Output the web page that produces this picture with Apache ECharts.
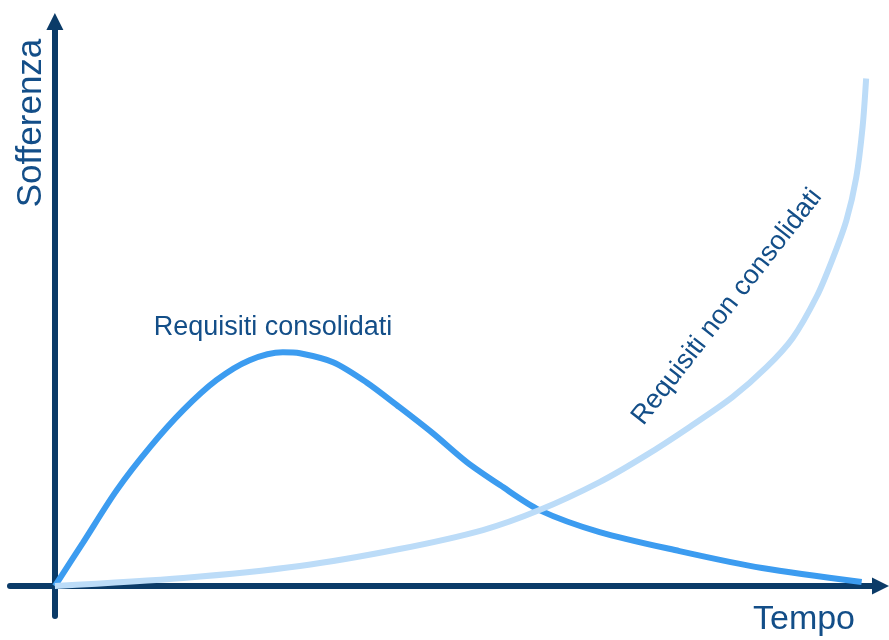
<!DOCTYPE html>
<html>
<head>
<meta charset="utf-8">
<script src="https://cdn.jsdelivr.net/npm/echarts@6/dist/echarts.min.js"></script>
<style>html,body{margin:0;padding:0;background:#fff}#c{width:889px;height:640px}</style>
</head>
<body>
<div id="c"></div>
<script>
// Tempo (x) and Sofferenza (y) values
const tempoConsolidati  = [0, 3.1, 6.9, 10.6, 14.3, 18.0, 21.7, 25.4, 27.3, 31.0, 34.7, 38.4, 42.1, 45.9, 49.6, 54.0, 60.7, 69.6, 78.8, 89.9];
const valoriConsolidati = [0, 4.3, 9.6, 13.9, 17.6, 20.6, 22.6, 23.4, 23.3, 22.4, 20.4, 17.9, 15.3, 12.4, 10.1, 7.6, 5.4, 3.5, 1.8, 0.4];
const tempoNonConsolidati  = [0, 14.3, 27.3, 38.4, 47.7, 54.0, 60.7, 65.9, 70.7, 75.5, 79.3, 82.2, 84.9, 86.6, 88.2, 89.3, 90.0, 90.4];
const valoriNonConsolidati = [0, 0.8, 2.0, 3.7, 5.6, 7.6, 10.4, 13.1, 15.9, 18.9, 21.9, 24.8, 29.0, 32.6, 36.6, 40.9, 45.9, 50.8];
const labels = {
  yName: 'Sofferenza',
  xName: 'Tempo',
  consolidati: 'Requisiti consolidati',
  nonConsolidati: 'Requisiti non consolidati'
};

const pairs = (xs, ys) => xs.map((x, i) => [x, ys[i]]);
const axisColor = '#0b3b68';
const textColor = '#134e88';
const font = '"Liberation Sans", Arial, sans-serif';

const chart = echarts.init(document.getElementById('c'));
const axisCommon = {
  type: 'value',
  axisLine: { show: true, onZero: true, symbol: ['none', 'triangle'], symbolSize: [17, 17], lineStyle: { color: axisColor, width: 6 } },
  axisTick: { show: false },
  axisLabel: { show: false },
  splitLine: { show: false }
};
chart.setOption({
  animation: false,
  backgroundColor: '#ffffff',
  grid: { left: 10, right: 8.5, top: 21.5, bottom: 24, containLabel: false },
  xAxis: Object.assign({}, axisCommon, { min: -5, max: 92 }),
  yAxis: Object.assign({}, axisCommon, { min: -3, max: 56.5 }),
  series: [
    {
      name: labels.consolidati,
      type: 'line',
      data: pairs(tempoConsolidati, valoriConsolidati),
      smooth: 0.3,
      symbol: 'none',
      lineStyle: { color: '#3c9cf0', width: 6 }
    },
    {
      name: labels.nonConsolidati,
      type: 'line',
      data: pairs(tempoNonConsolidati, valoriNonConsolidati),
      smooth: 0.3,
      symbol: 'none',
      lineStyle: { color: '#bcdcf8', width: 6 }
    }
  ],
  graphic: [
    { type: 'text', x: 31, y: 123, rotation: Math.PI / 2,
      style: { text: labels.yName, fill: textColor, font: '35px ' + font, textAlign: 'center', textVerticalAlign: 'middle' } },
    { type: 'text', x: 804, y: 620,
      style: { text: labels.xName, fill: textColor, font: '34px ' + font, textAlign: 'center', textVerticalAlign: 'middle' } },
    { type: 'text', x: 273, y: 328,
      style: { text: labels.consolidati, fill: textColor, font: '27px ' + font, textAlign: 'center', textVerticalAlign: 'middle' } },
    { type: 'text', x: 727, y: 307, rotation: 52 * Math.PI / 180,
      style: { text: labels.nonConsolidati, fill: textColor, font: '27px ' + font, textAlign: 'center', textVerticalAlign: 'middle' } }
  ]
});
</script>
</body>
</html>
